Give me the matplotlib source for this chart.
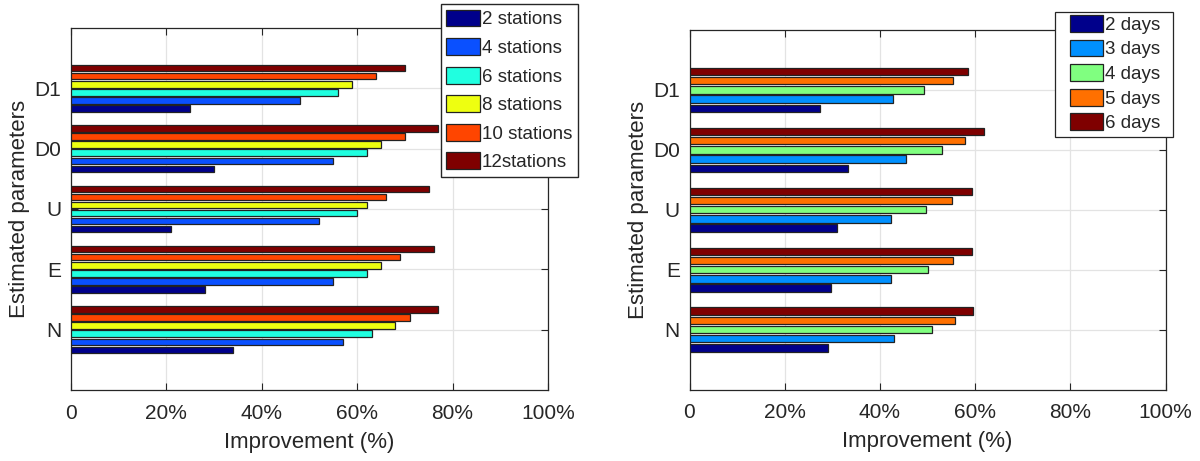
import numpy as np
import matplotlib
matplotlib.use('Agg')
import matplotlib.pyplot as plt
from matplotlib.patches import Rectangle

plt.rcParams['font.family'] = ['Liberation Sans', 'DejaVu Sans']
plt.rcParams['text.color'] = '#262626'
plt.rcParams['axes.labelcolor'] = '#262626'
plt.rcParams['xtick.color'] = '#262626'
plt.rcParams['ytick.color'] = '#262626'

parametros = ['N', 'E', 'U', 'D0', 'D1']

# melhoria (%) por numero de estacoes
estacoes = ['2 stations', '4 stations', '6 stations', '8 stations', '10 stations', '12stations']
st_2 = [34, 28, 21, 30, 25]
st_4 = [57, 55, 52, 55, 48]
st_6 = [63, 62, 60, 62, 56]
st_8 = [68, 65, 62, 65, 59]
st_10 = [71, 69, 66, 70, 64]
st_12 = [77, 76, 75, 77, 70]
cores_est = ['#00008B', '#0A50FF', '#20FFE0', '#EEFF10', '#FF4500', '#7F0000']

# melhoria (%) por numero de dias
dias = ['2 days', '3 days', '4 days', '5 days', '6 days']
d_2 = [29.0, 29.7, 30.9, 33.4, 27.5]
d_3 = [42.9, 42.3, 42.3, 45.5, 42.8]
d_4 = [51.0, 50.0, 49.6, 53.1, 49.3]
d_5 = [55.8, 55.3, 55.1, 57.9, 55.3]
d_6 = [59.6, 59.3, 59.3, 61.8, 58.6]
cores_dias = ['#00008B', '#0090FF', '#80FF80', '#FF7000', '#7F0000']

xticks = [0, 20, 40, 60, 80, 100]
xticklabels = ['0', '20%', '40%', '60%', '80%', '100%']

W, H = 1200, 461


def barras(ax, series, cores, nomes):
    n = len(series)
    largura_grupo = min(0.8, n / (n + 1.5))
    slot = largura_grupo / n
    y = np.arange(1, len(parametros) + 1)
    for i, (vals, cor, nome) in enumerate(zip(series, cores, nomes)):
        off = (i - (n - 1) / 2) * slot
        ax.barh(y + off, vals, height=slot * 0.8, color=cor,
                edgecolor='#222222', linewidth=0.9, label=nome, zorder=3)
    ax.set_xlim(0, 100)
    ax.set_ylim(0, 6)
    ax.set_yticks(y)
    ax.set_yticklabels(parametros, fontsize=15)
    ax.set_xticks(xticks)
    ax.set_xticklabels(xticklabels, fontsize=15)
    ax.grid(True, color='#E3E3E3', linewidth=0.9, zorder=0)
    ax.tick_params(direction='in', length=5, top=True, right=True, width=0.8, pad=7)
    ax.tick_params(axis='x', pad=10)
    for s in ax.spines.values():
        s.set_color('#262626')
        s.set_linewidth(0.9)
    ax.set_xlabel('Improvement (%)', fontsize=16)
    ax.set_ylabel('Estimated parameters', fontsize=16)
    ax.xaxis.set_label_coords(0.5, -0.115, transform=ax.transAxes)
    ax.yaxis.set_label_coords(-0.086, 0.5, transform=ax.transAxes)


fig = plt.figure(figsize=(12, 4.61), dpi=100)

ax1 = fig.add_axes([71 / W, 71 / H, 477 / W, 362 / H])
barras(ax1, [st_2, st_4, st_6, st_8, st_10, st_12], cores_est, estacoes)
ax1.legend(loc='upper right', bbox_to_anchor=(578 / W, 1 - 4 / H),
           bbox_transform=fig.transFigure, fontsize=13.5, fancybox=False,
           edgecolor='#262626', framealpha=1, handlelength=1.8,
           handleheight=1.0, handletextpad=0.1, labelspacing=0.52,
           borderpad=0.3, borderaxespad=0)

ax2 = fig.add_axes([689.5 / W, 71.5 / H, 476 / W, 359.5 / H])
barras(ax2, [d_2, d_3, d_4, d_5, d_6], cores_dias, dias)
# caixa da legenda desenhada a parte (margem lateral maior que a vertical)
caixa = Rectangle((1055 / W, 1 - 137 / H), 118 / W, 125 / H,
                  transform=fig.transFigure, facecolor='white',
                  edgecolor='#262626', linewidth=0.9, clip_on=False, zorder=4)
ax2.add_artist(caixa)
ax2.legend(loc='upper right', bbox_to_anchor=(1160 / W, 1 - 15 / H),
           bbox_transform=fig.transFigure, fontsize=13.5, frameon=False,
           handlelength=1.75, handleheight=1.0, handletextpad=0.1,
           labelspacing=0.31, borderpad=0, borderaxespad=0)

fig.savefig('out.png', dpi=100)
